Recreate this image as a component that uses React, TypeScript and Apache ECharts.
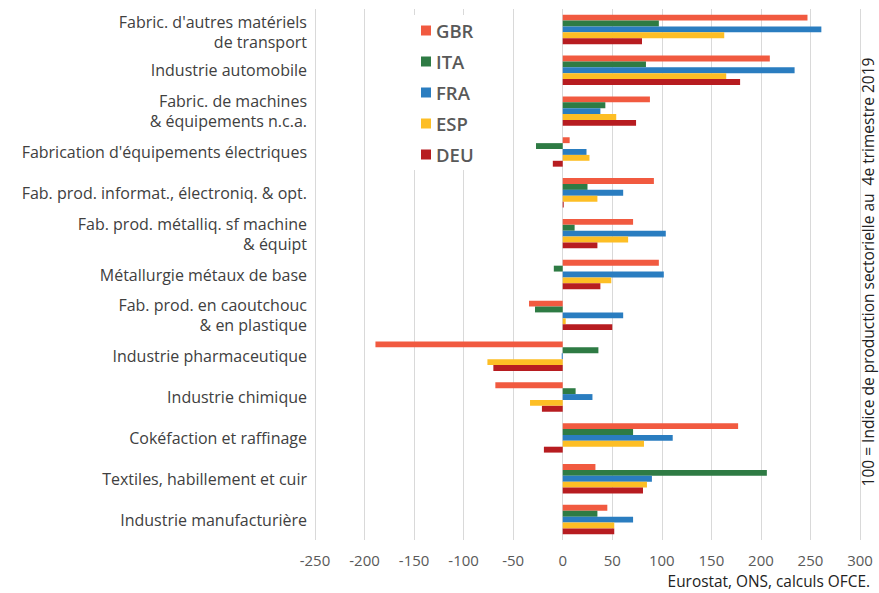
import React, { useEffect, useRef } from "react";
import * as echarts from "echarts";

const categories = [
  "Fabric. d'autres matériels\nde transport",
  "Industrie automobile",
  "Fabric. de machines\n& équipements n.c.a.",
  "Fabrication d'équipements électriques",
  "Fab. prod. informat., électroniq. & opt.",
  "Fab. prod. métalliq. sf machine\n& équipt",
  "Métallurgie métaux de base",
  "Fab. prod. en caoutchouc\n& en plastique",
  "Industrie pharmaceutique",
  "Industrie chimique",
  "Cokéfaction et raffinage",
  "Textiles, habillement et cuir",
  "Industrie manufacturière",
];

const GBR = [247, 209, 88, 7, 92, 71, 97, -34, -189, -68, 177, 33, 45];
const ITA = [97, 84, 43, -27, 25, 12, -9, -28, 36, 13, 71, 206, 35];
const FRA = [261, 234, 38, 24, 61, 104, 102, 61, -1, 30, 111, 90, 71];
const ESP = [163, 165, 54, 27, 35, 66, 49, 3, -76, -33, 82, 85, 52];
const DEU = [80, 179, 74, -10, 1, 35, 38, 50, -70, -21, -19, 81, 52];

const seriesNames = ["GBR", "ITA", "FRA", "ESP", "DEU"];
const seriesData = [GBR, ITA, FRA, ESP, DEU];
const colors = ["#F15A40", "#2E7B44", "#2A7DC0", "#FDBE25", "#B71C20"];

const xTicks = { min: -250, max: 300, interval: 50 };

export default function App() {
  const ref = useRef<HTMLDivElement>(null);
  useEffect(() => {
    if (!ref.current) return;
    const chart = echarts.init(ref.current, null, { renderer: "svg" });
    const font = "'Open Sans', sans-serif";
    chart.setOption({
      animation: false,
      textStyle: { fontFamily: font },
      grid: { left: 315, right: 19, top: 9, bottom: 53, containLabel: false },
      legend: {
        orient: "vertical",
        left: 414,
        top: 15,
        backgroundColor: "#ffffff",
        padding: [6, 8, 6, 7],
        itemWidth: 10,
        itemHeight: 10,
        itemGap: 12,
        icon: "rect",
        textStyle: { fontSize: 18.5, color: "#595959", fontWeight: 600, fontFamily: font },
        data: seriesNames,
      },
      xAxis: {
        type: "value",
        min: xTicks.min,
        max: xTicks.max,
        interval: xTicks.interval,
        axisLine: { show: false },
        axisTick: { show: false },
        splitLine: { lineStyle: { color: "#d9d9d9", width: 1 } },
        axisLabel: { fontSize: 15, color: "#595959", margin: 12, fontFamily: font },
      },
      yAxis: {
        type: "category",
        inverse: true,
        data: categories,
        axisLine: { show: false },
        axisTick: { show: false },
        axisLabel: {
          fontSize: 16,
          color: "#404040",
          margin: 8,
          lineHeight: 20,
          fontFamily: font,
          formatter: (v: string, i: number) =>
            i === 0 ? "{first|" + v.split("\n").join("}\n{first|") + "}" : v,
          rich: {
            first: { fontSize: 16, color: "#404040", lineHeight: 20, fontFamily: font, padding: [6, 0, 0, 0] },
          },
        },
      },
      series: seriesNames.map((name, i) => ({
        name,
        type: "bar",
        data: seriesData[i],
        barGap: "0%",
        barCategoryGap: "28%",
        itemStyle: { color: colors[i] },
      })),
      graphic: [
        {
          type: "text",
          x: 868,
          y: 272,
          rotation: Math.PI / 2,
          style: {
            text: "100 = Indice de production sectorielle au  4e trimestre 2019",
            fontSize: 15.5,
            fill: "#222222",
            fontFamily: font,
            align: "center",
            verticalAlign: "middle",
          },
        },
        {
          type: "text",
          right: 9,
          top: 574,
          style: {
            text: "Eurostat, ONS, calculs OFCE.",
            fontSize: 15.4,
            fill: "#222222",
            fontFamily: font,
          },
        },
      ],
    });
    return () => chart.dispose();
  }, []);
  return <div ref={ref} style={{ width: 879, height: 593, position: "absolute", left: 0, top: 0 }} />;
}
